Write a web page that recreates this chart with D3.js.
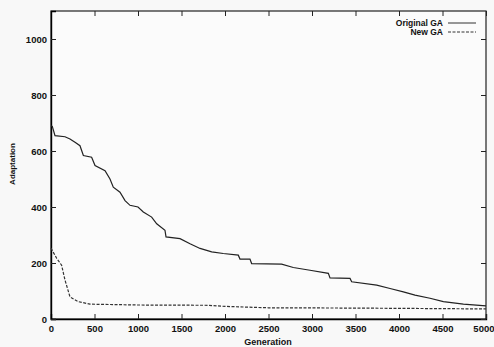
<!DOCTYPE html>
<html>
<head>
<meta charset="utf-8">
<script src="https://cdn.jsdelivr.net/npm/d3@7"></script>
<style>
  html, body { margin: 0; padding: 0; background: #f8f8f8; }
  svg { display: block; }
</style>
</head>
<body>
<div id="chart"></div>
<script>
// generation / adaptation readings for the two runs
const originalGen = [0, 15, 46, 161, 218, 276, 333, 372, 467, 506, 621, 678, 716, 793, 851, 908, 1000, 1061, 1157, 1215, 1310, 1322, 1483, 1598, 1713, 1847, 1980, 2153, 2172, 2287, 2306, 2651, 2785, 2977, 3188, 3207, 3437, 3456, 3744, 3897, 4050, 4184, 4356, 4510, 4740, 5000];
const originalVal = [690, 688, 655, 651, 643, 631, 619, 584, 578, 548, 530, 500, 471, 453, 423, 406, 400, 382, 364, 340, 317, 293, 287, 269, 252, 240, 234, 228, 214, 214, 198, 196, 184, 174, 163, 147, 145, 133, 121, 109, 97, 85, 74, 62, 53, 47];

const newGen = [0, 65, 122, 161, 218, 314, 448, 1000, 1800, 2000, 2500, 3500, 5000];
const newVal = [253, 217, 192, 139, 79, 62, 53, 50, 49, 45, 40, 39, 36];

const xTicks = [0, 500, 1000, 1500, 2000, 2500, 3000, 3500, 4000, 4500, 5000];
const yTicks = [0, 200, 400, 600, 800, 1000];

const W = 494, H = 347;
const margin = { left: 51, right: 8, top: 11, bottom: 28 };

const svg = d3.select("#chart").append("svg")
  .attr("width", W).attr("height", H)
  .style("font-family", "'Liberation Sans', Arial, sans-serif");

const x = d3.scaleLinear().domain([0, 5000]).range([margin.left, W - margin.right]);
const y = d3.scaleLinear().domain([0, 1100]).range([H - margin.bottom, margin.top]);

svg.append("rect")
  .attr("x", x(0)).attr("y", y(1100))
  .attr("width", x(5000) - x(0)).attr("height", y(0) - y(1100))
  .attr("fill", "#fbfbfb")
  .attr("stroke", "#222").attr("stroke-width", 1.2);

// axes with inward ticks, mirrored on top and right
const tickLen = 5;
svg.append("g")
  .attr("transform", `translate(0,${y(0)})`)
  .call(d3.axisBottom(x).tickValues(xTicks).tickSize(-tickLen).tickPadding(6).tickFormat(d3.format("d")))
  .call(g => g.select(".domain").attr("stroke-width", 1.4))
  .call(g => g.selectAll(".tick text").filter(d => d === 5000).attr("text-anchor", "end").attr("dx", 8));
svg.append("g")
  .attr("transform", `translate(0,${y(1100)})`)
  .call(d3.axisTop(x).tickValues(xTicks).tickSize(-tickLen).tickFormat(""))
  .call(g => g.select(".domain").remove());
svg.append("g")
  .attr("transform", `translate(${x(0)},0)`)
  .call(d3.axisLeft(y).tickValues(yTicks).tickSize(-tickLen).tickPadding(4).tickFormat(d3.format("d")))
  .call(g => g.select(".domain").attr("stroke-width", 1.4));
svg.append("g")
  .attr("transform", `translate(${x(5000)},0)`)
  .call(d3.axisRight(y).tickValues(yTicks).tickSize(-tickLen).tickFormat(""))
  .call(g => g.select(".domain").remove());

svg.selectAll(".tick text")
  .attr("font-size", 9.5).attr("font-weight", "bold").attr("fill", "#111")
  .attr("font-family", "'Liberation Sans', Arial, sans-serif");
svg.selectAll(".tick line").attr("stroke", "#222");

// jagged lines through the read corners
const line = d3.line().x(d => x(d[0])).y(d => y(d[1]));

svg.append("path")
  .datum(originalGen.map((g, i) => [g, originalVal[i]]))
  .attr("d", line)
  .attr("fill", "none").attr("stroke", "#222").attr("stroke-width", 1.2);

svg.append("path")
  .datum(newGen.map((g, i) => [g, newVal[i]]))
  .attr("d", line)
  .attr("fill", "none").attr("stroke", "#333").attr("stroke-width", 1.2)
  .attr("stroke-dasharray", "3,1.5");

// legend
const legend = [
  { name: "Original GA", dash: null },
  { name: "New GA", dash: "3,1.5" }
];
const lg = svg.append("g");
legend.forEach((d, i) => {
  const yy = 23 + i * 9;
  lg.append("text")
    .attr("x", 443).attr("y", yy + 3)
    .attr("text-anchor", "end")
    .attr("font-size", 8.5).attr("font-weight", "bold").attr("fill", "#111")
    .text(d.name);
  lg.append("line")
    .attr("x1", 448).attr("x2", 476).attr("y1", yy).attr("y2", yy)
    .attr("stroke", "#333").attr("stroke-width", 1)
    .attr("stroke-dasharray", d.dash);
});

// axis titles
svg.append("text")
  .attr("x", 268).attr("y", 345)
  .attr("text-anchor", "middle")
  .attr("font-size", 9).attr("font-weight", "bold").attr("fill", "#111")
  .text("Generation");

svg.append("text")
  .attr("transform", `translate(15,${164}) rotate(-90)`)
  .attr("text-anchor", "middle")
  .attr("font-size", 8).attr("font-weight", "bold").attr("fill", "#111")
  .text("Adaptation");
</script>
</body>
</html>
